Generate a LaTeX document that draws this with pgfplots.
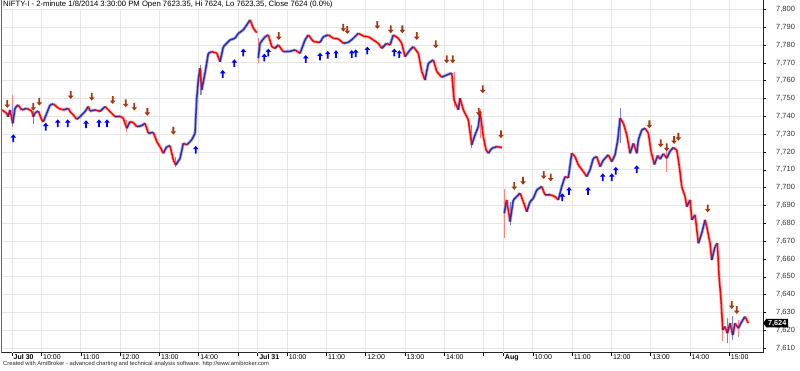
\documentclass[border=0pt]{standalone}
\usepackage{fontspec}
\setmainfont{Liberation Sans}
\usepackage{pgfplots}
\pgfplotsset{compat=1.18}
\usepackage{pgfplotstable}
\usetikzlibrary{shapes.symbols}

\definecolor{gridc}{RGB}{230,230,230}
\definecolor{dayc}{RGB}{205,205,205}
\definecolor{sellc}{RGB}{165,55,15}
\definecolor{buyc}{RGB}{0,0,255}

\pgfdeclareplotmark{buyarrow}{%
  \pgfpathmoveto{\pgfpoint{0pt}{4pt}}%
  \pgfpathlineto{\pgfpoint{2.8pt}{0.7pt}}%
  \pgfpathlineto{\pgfpoint{0.9pt}{0.7pt}}%
  \pgfpathlineto{\pgfpoint{0.9pt}{-3.8pt}}%
  \pgfpathlineto{\pgfpoint{-0.9pt}{-3.8pt}}%
  \pgfpathlineto{\pgfpoint{-0.9pt}{0.7pt}}%
  \pgfpathlineto{\pgfpoint{-2.8pt}{0.7pt}}%
  \pgfpathclose\pgfusepathqfill}
\pgfdeclareplotmark{sellarrow}{%
  \pgfpathmoveto{\pgfpoint{0pt}{-4pt}}%
  \pgfpathlineto{\pgfpoint{2.8pt}{-0.7pt}}%
  \pgfpathlineto{\pgfpoint{0.9pt}{-0.7pt}}%
  \pgfpathlineto{\pgfpoint{0.9pt}{3.8pt}}%
  \pgfpathlineto{\pgfpoint{-0.9pt}{3.8pt}}%
  \pgfpathlineto{\pgfpoint{-0.9pt}{-0.7pt}}%
  \pgfpathlineto{\pgfpoint{-2.8pt}{-0.7pt}}%
  \pgfpathclose\pgfusepathqfill}

\pgfplotsset{colormap={upd}{rgb255(0cm)=(255,0,0) rgb255(1cm)=(45,45,170)}}
\pgfplotsset{colormap={updl}{rgb255(0cm)=(255,130,130) rgb255(1cm)=(125,125,215)}}

% x = trading minutes since Jul 30 09:15 (375 per session), c = price
\pgfplotstableread{
x c d
-15.3 7743.6 0
-8.1 7741.7 0
-6.1 7739.8 1
-3.1 7743.6 0
1.1 7736.1 1
4.6 7744.7 1
9.2 7746.4 0
14.8 7743.6 1
22.4 7744.5 0
30.1 7743.0 0
32.5 7739.8 1
35.1 7742.0 1
40.2 7743.0 0
45.3 7738.0 0
47.8 7737.0 1
53.0 7741.7 1
58.0 7746.4 1
63.1 7747.0 0
70.7 7744.6 0
78.3 7743.6 1
86.0 7744.5 0
88.5 7742.7 0
93.6 7740.8 0
98.8 7738.4 1
103.8 7739.8 1
111.4 7742.7 1
116.5 7745.5 0
119.1 7743.0 1
126.7 7743.6 0
134.4 7742.8 1
142.0 7745.5 0
147.0 7743.6 0
152.2 7741.7 0
157.3 7739.8 1
164.9 7740.0 0
169.9 7739.0 0
175.1 7733.3 1
180.2 7737.0 0
185.2 7736.5 0
190.4 7734.2 1
198.0 7734.8 1
203.1 7736.1 0
208.1 7730.5 1
215.7 7731.0 0
220.9 7725.8 0
225.9 7723.0 0
231.0 7719.3 1
236.2 7723.0 1
241.2 7723.5 0
246.3 7715.5 0
249.9 7712.7 1
256.5 7716.4 1
261.5 7724.9 0
266.7 7724.0 1
274.3 7726.8 1
279.4 7730.5 1
282.0 7750.2 1
284.4 7760.4 1
287.0 7767.0 0
289.6 7754.8 1
294.6 7764.2 1
299.7 7775.4 1
304.9 7776.3 0
312.5 7775.5 0
317.6 7770.7 1
322.6 7779.1 1
332.8 7782.9 1
340.4 7783.8 1
345.5 7786.6 1
353.1 7788.5 1
358.3 7791.3 1
363.4 7794.1 0
368.4 7789.4 0
373.6 7787.0 0
}\dayA

\pgfplotstableread{
x c d
376.0 7772.6 1
378.6 7781.0 1
386.3 7784.7 1
391.3 7785.7 0
396.5 7779.1 0
401.5 7778.2 1
406.6 7780.1 0
414.2 7776.3 1
424.4 7776.5 1
432.0 7777.3 0
439.7 7775.4 1
447.3 7782.9 1
452.4 7785.7 0
460.0 7782.0 0
470.2 7781.5 1
475.3 7784.7 1
482.9 7785.7 0
490.5 7783.8 0
498.2 7783.5 0
505.8 7781.0 1
513.4 7781.5 1
521.1 7783.8 1
528.7 7786.6 0
536.3 7785.0 0
544.0 7784.7 0
551.6 7782.9 0
559.2 7781.0 0
564.4 7778.2 1
572.0 7781.0 0
577.1 7780.0 1
582.1 7785.7 0
589.8 7783.8 0
594.9 7781.0 0
600.0 7773.5 1
607.6 7777.3 1
612.7 7779.1 0
620.3 7775.4 0
625.5 7765.1 0
630.5 7760.4 1
635.6 7769.8 1
643.2 7771.7 0
648.4 7765.1 0
656.0 7762.0 1
663.6 7763.2 1
671.3 7764.3 0
674.8 7749.2 0
681.4 7743.6 1
683.9 7750.2 0
689.0 7743.6 0
696.6 7738.0 0
701.8 7724.0 1
706.8 7729.6 1
711.9 7734.2 1
714.5 7742.7 0
719.5 7728.6 0
723.6 7721.2 0
727.2 7719.3 1
732.4 7722.1 1
740.0 7723.0 0
748.1 7722.5 0
}\dayB

\pgfplotstableread{
x c d
751.6 7685.6 1
755.2 7693.1 0
760.3 7681.0 1
765.3 7693.1 1
770.5 7695.0 1
775.6 7696.9 0
780.6 7692.1 0
785.8 7686.5 1
790.8 7692.1 1
795.9 7694.0 1
801.1 7698.7 1
808.7 7700.6 0
813.7 7695.9 1
821.4 7696.0 0
829.0 7695.0 0
834.0 7693.1 1
839.2 7700.6 1
844.3 7706.2 0
849.3 7705.5 1
854.5 7719.3 0
859.5 7717.4 0
864.6 7712.7 0
872.2 7709.0 0
877.4 7706.2 1
882.4 7709.9 1
887.5 7716.5 1
892.7 7717.4 0
897.7 7711.8 1
902.8 7715.5 1
910.4 7718.4 0
915.6 7714.6 1
920.6 7718.4 1
924.8 7726.8 1
928.3 7739.0 0
933.3 7736.1 0
938.5 7729.6 0
943.5 7719.3 1
948.6 7724.9 0
953.8 7719.3 1
956.2 7726.8 1
961.4 7732.4 1
966.4 7733.3 0
971.5 7730.5 0
975.6 7720.2 0
980.6 7713.0 1
985.8 7718.0 0
989.3 7716.0 1
994.4 7719.0 0
999.6 7716.5 1
1004.6 7720.5 1
1009.7 7722.5 0
1014.9 7721.0 0
1018.8 7711.8 0
1022.4 7700.6 0
1027.5 7695.0 0
1030.1 7689.4 1
1035.2 7693.1 0
1037.8 7681.9 1
1042.8 7684.7 0
1047.8 7668.8 1
1053.0 7674.4 1
1058.0 7681.9 0
1060.6 7678.1 0
1065.6 7668.8 0
1068.2 7659.4 1
1073.3 7666.9 1
1076.8 7668.8 0
1079.4 7650.1 0
1082.4 7637.0 0
1085.0 7620.2 1
1088.5 7622.0 0
1092.0 7618.3 1
1096.2 7623.9 0
1100.3 7617.3 1
1103.8 7623.9 0
1108.8 7621.1 1
1114.0 7624.8 1
1119.0 7627.6 0
1121.6 7625.8 0
1124.0 7624.0 0
}\dayC

% high-low wicks
\pgfplotstableread{
x l h d
0.0 7734.0 7752.0 0
1.1 7734.5 7746.0 1
32.5 7735.5 7743.0 1
175.1 7731.5 7738.0 0
249.9 7711.5 7717.0 1
287.0 7752.0 7769.0 1
289.6 7752.0 7766.0 0
376.0 7770.0 7784.0 0
674.8 7745.0 7765.0 0
701.8 7722.0 7735.0 1
714.5 7728.0 7744.0 0
751.6 7672.0 7699.0 0
760.3 7679.0 7692.0 1
928.3 7725.0 7744.6 1
999.6 7709.0 7721.0 0
1085.0 7614.0 7629.0 0
1092.0 7613.0 7627.0 1
1100.3 7614.5 7628.0 1
1108.8 7616.0 7626.0 0
}\wicks

\pgfplotstableread{
x y
2.0 7727.7
51.4 7734.2
69.8 7736.1
85.0 7736.1
113.0 7735.6
132.8 7736.1
145.0 7736.1
280.5 7721.2
321.7 7763.8
339.4 7769.8
353.1 7775.8
385.2 7773.0
391.3 7775.8
448.4 7772.2
470.2 7773.5
482.0 7774.5
494.7 7774.9
518.6 7775.0
524.7 7775.4
542.4 7776.9
583.6 7775.8
591.3 7774.9
840.1 7694.6
850.4 7698.1
879.4 7698.1
901.8 7705.8
915.6 7705.8
921.7 7709.4
953.7 7710.3
}\buys

\pgfplotstableread{
x y
-7.2 7747.0
32.5 7745.5
41.7 7748.3
89.6 7752.0
121.7 7751.1
153.7 7749.2
173.6 7747.4
186.7 7745.5
206.6 7742.6
246.3 7732.0
407.2 7785.1
505.8 7789.8
511.9 7788.5
557.7 7791.3
578.2 7788.9
595.9 7788.9
617.9 7785.1
646.9 7780.5
663.6 7772.1
672.8 7772.1
712.5 7742.6
718.6 7755.2
746.5 7730.0
766.8 7701.0
780.1 7703.9
811.7 7707.1
822.4 7705.8
973.0 7735.6
990.4 7724.9
999.5 7722.7
1010.7 7726.8
1017.3 7728.6
1062.1 7688.4
1098.8 7634.2
1106.4 7631.4
}\sells

\begin{document}
\begin{tikzpicture}
\path[use as bounding box] (-2pt,-17.5pt) rectangle (798pt,352.5pt);
\begin{axis}[
  at={(0pt,0pt)}, anchor=south west,
  scale only axis, width=761pt, height=352.5pt,
  xmin=-15.3, xmax=1146.5, ymin=7607.5, ymax=7805.3,
  axis x line*=bottom, axis y line*=right,
  axis line style={black!85, line width=0.7pt},
  tick align=outside, major tick length=3pt,
  tick style={black, line width=0.5pt},
  xtick={45,105,165,225,285,345,420,480,540,600,660,720,795,855,915,975,1035,1095},
  xticklabels={10:00,11:00,12:00,13:00,14:00,,10:00,11:00,12:00,13:00,14:00,,10:00,11:00,12:00,13:00,14:00,15:00},
  extra x ticks={0,375,750},
  extra x tick labels={\textbf{Jul 30},\textbf{Jul 31},\textbf{Aug}},
  extra x tick style={grid style={dayc, line width=1.4pt}},
  ytick={7610,7620,...,7800},
  grid=major,
  major grid style={gridc, line width=0.9pt},
  xticklabel style={anchor=north west, inner sep=0pt, xshift=1.5pt, yshift=1.2pt, font=\fontsize{7}{8}\selectfont},
  yticklabel style={anchor=west, inner sep=0pt, xshift=10pt, font=\fontsize{7.5}{9}\selectfont, text=black!80},
  /pgf/number format/assume math mode=true,
  /pgf/number format/1000 sep={,},
  point meta min=0, point meta max=1,
  clip=false,
]
\draw[black!60, line width=0.7pt] (axis description cs:-0.0013,0) -- (axis description cs:-0.0013,1);
\addplot[quiver={u=0, v=\thisrow{h}-\thisrow{l}, colored=mapped color, every arrow/.append style={-}},
  colormap name=updl, point meta=\thisrow{d}, line width=0.9pt] table[x=x, y=l] {\wicks};
\addplot[mesh, shader=flat corner, colormap name=updl, point meta=\thisrow{d}, line width=3.2pt, opacity=0.55] table[x=x, y=c] {\dayA};
\addplot[mesh, shader=flat corner, colormap name=updl, point meta=\thisrow{d}, line width=3.2pt, opacity=0.55] table[x=x, y=c] {\dayB};
\addplot[mesh, shader=flat corner, colormap name=updl, point meta=\thisrow{d}, line width=3.2pt, opacity=0.55] table[x=x, y=c] {\dayC};
\addplot[mesh, shader=flat corner, colormap name=upd, point meta=\thisrow{d}, line width=1.5pt] table[x=x, y=c] {\dayA};
\addplot[mesh, shader=flat corner, colormap name=upd, point meta=\thisrow{d}, line width=1.5pt] table[x=x, y=c] {\dayB};
\addplot[mesh, shader=flat corner, colormap name=upd, point meta=\thisrow{d}, line width=1.5pt] table[x=x, y=c] {\dayC};
\addplot[only marks, mark=buyarrow, color=buyc] table[x=x, y=y] {\buys};
\addplot[only marks, mark=sellarrow, color=sellc] table[x=x, y=y] {\sells};
\addplot[draw=none, mark=none, nodes near coords={7{,}624},
  every node near coord/.append style={anchor=west, shape=signal, signal to=west, signal pointer angle=110,
  fill=black, text=white, inner xsep=1.8pt, inner ysep=1.2pt, font=\fontsize{7.3}{8}\selectfont\bfseries}]
  coordinates {(1146.5,7624)};
\node[anchor=north west, fill=white, inner sep=1pt, font=\fontsize{7.7}{9}\selectfont]
  at (axis description cs:0,1) {NIFTY-I - 2-minute 1/8/2014 3:30:00 PM Open 7623.35, Hi 7624, Lo 7623.35, Close 7624 (0.0\%)};
\node[anchor=west, inner sep=0pt, xshift=1pt, yshift=-11.6pt, font=\fontsize{5.8}{7}\selectfont, text=black!85]
  at (axis description cs:0,0) {Created with AmiBroker - advanced charting and technical analysis software. http://www.amibroker.com};
\end{axis}
\end{tikzpicture}
\end{document}
